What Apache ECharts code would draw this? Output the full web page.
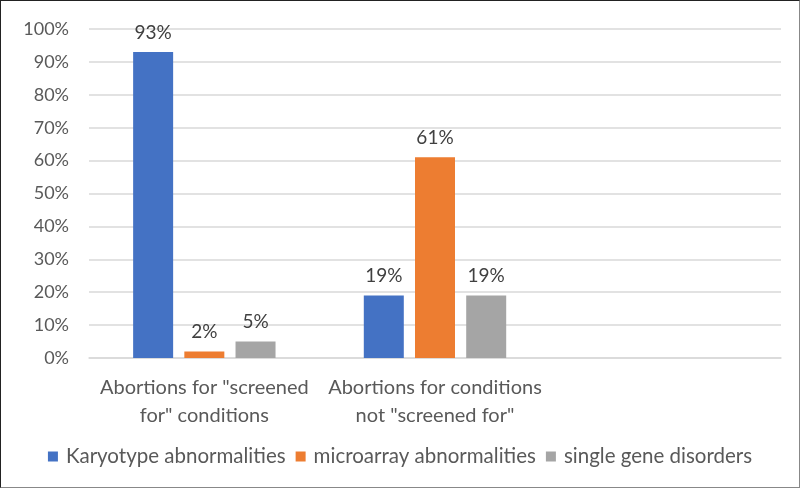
<!DOCTYPE html>
<html><head><meta charset="utf-8">
<script src="https://cdn.jsdelivr.net/npm/echarts@6/dist/echarts.min.js"></script>
<style>html,body{margin:0;padding:0;background:#fff}#c{width:798px;height:486px;border-left:1px solid #222;border-top:1px solid #222;border-right:1px solid #888;border-bottom:1px solid #888}</style>
</head><body><div id="c"></div>
<script>
const categories = ['Abortions for "screened\nfor" conditions', 'Abortions for conditions\nnot "screened for"', ''];
const seriesNames = ['Karyotype abnormalities', 'microarray abnormalities', 'single gene disorders'];
const karyotype = [93, 19, null];
const microarray = [2, 61, null];
const singleGene = [5, 19, null];
const colors = ['#4472c4', '#ed7d31', '#a5a5a5'];
const font = 'Lato, "Open Sans", sans-serif';
const chart = echarts.init(document.getElementById('c'));
const mk = (name, data, i) => ({
  name, type: 'bar', data, barWidth: 40, barGap: '28%',
  itemStyle: { color: colors[i] },
  label: { show: true, position: 'top', formatter: '{c}%', color: '#404040', fontSize: 19, fontFamily: font, distance: 10 }
});
chart.setOption({
  animation: false,
  textStyle: { fontFamily: font },
  grid: { left: 88, right: 18, top: 28, bottom: 129, containLabel: false },
  legend: {
    bottom: 15, left: 'center', itemWidth: 10, itemHeight: 10, itemGap: 10, icon: 'rect',
    textStyle: { color: '#595959', fontSize: 20.5, fontFamily: font, padding: [0, 0, 0, 3] },
    data: seriesNames
  },
  xAxis: {
    type: 'category', data: categories,
    axisLine: { lineStyle: { color: '#d9d9d9', width: 1.5 } },
    axisTick: { show: false },
    axisLabel: { color: '#595959', fontSize: 20, fontFamily: font, lineHeight: 28, margin: 16, interval: 0 }
  },
  yAxis: {
    type: 'value', min: 0, max: 100, interval: 10,
    axisLabel: { formatter: '{value}%', color: '#595959', fontSize: 18, fontFamily: font, margin: 20 },
    splitLine: { lineStyle: { color: '#d9d9d9', width: 1.5 } },
    axisLine: { show: false }, axisTick: { show: false }
  },
  series: [mk(seriesNames[0], karyotype, 0), mk(seriesNames[1], microarray, 1), mk(seriesNames[2], singleGene, 2)]
});
</script></body></html>
